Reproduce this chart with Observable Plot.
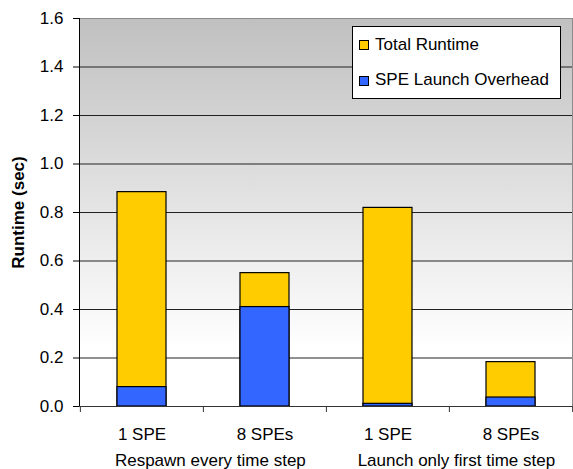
<!DOCTYPE html>
<html>
<head>
<meta charset="utf-8">
<script src="https://cdn.jsdelivr.net/npm/d3@7"></script>
<script src="https://cdn.jsdelivr.net/npm/@observablehq/plot@0.6"></script>
<style>
  html, body { margin: 0; padding: 0; background: #fff; }
  #wrap { position: relative; width: 573px; height: 469px; font-family: "Liberation Sans", Arial, sans-serif; }
  #legend { position: absolute; left: 352px; top: 26px; width: 209px; height: 73px; box-sizing: border-box;
            border: 1px solid #000; background: #fff; font-size: 17px; line-height: 20px; color: #000; }
  .row { position: absolute; left: 0; white-space: nowrap; }
  .sw { position: absolute; width: 10px; height: 10px; box-sizing: border-box; border: 1px solid #000; }
  .lbl { position: absolute; left: 22px; }
</style>
</head>
<body>
<div id="wrap"></div>
<script>
// ---- data ----
const groups = ["Respawn every time step", "Respawn every time step", "Launch only first time step", "Launch only first time step"];
const categories = ["1 SPE", "8 SPEs", "1 SPE", "8 SPEs"];
const totalRuntime = [0.884, 0.55, 0.819, 0.183];
const launchOverhead = [0.08, 0.41, 0.011, 0.037];
const yTicks = [0, 0.2, 0.4, 0.6, 0.8, 1.0, 1.2, 1.4, 1.6];
const seriesNames = ["Total Runtime", "SPE Launch Overhead"];
const seriesColors = ["#FFCC00", "#3366FF"];
const groupNames = ["Respawn every time step", "Launch only first time step"];

const ids = categories.map((c, i) => groups[i] + " / " + c);
const data = ids.map((id, i) => ({id, total: totalRuntime[i], overhead: launchOverhead[i]}));
const groupData = groupNames.map(g => ({g, id: ids.filter((d, i) => groups[i] === g)[1]}));

const W = 573, H = 469, mL = 79, mR = 1, mT = 18, mB = 63;
const band = (W - mL - mR) / ids.length;

const chart = Plot.plot({
  width: W, height: H,
  marginLeft: mL, marginRight: mR, marginTop: mT, marginBottom: mB,
  style: {fontFamily: "'Liberation Sans', Arial, sans-serif", fontSize: "17px", color: "#000", background: "transparent"},
  x: {domain: ids, padding: 0, axis: null},
  y: {domain: [0, 1.6], axis: null},
  marks: [
    Plot.frame({fill: "url(#bgGrad)", stroke: "#8c8c8c"}),
    Plot.ruleY(yTicks.filter(t => t > 0 && t < 1.6), {stroke: "#222", strokeWidth: 1}),
    Plot.rectY(data, {x: "id", y: "total", fill: seriesColors[0], stroke: "#000", strokeWidth: 1.2, insetLeft: 37, insetRight: 37}),
    Plot.rectY(data, {x: "id", y: "overhead", fill: seriesColors[1], stroke: "#000", strokeWidth: 1.2, insetLeft: 37, insetRight: 37}),
    Plot.frame({anchor: "left", stroke: "#000"}),
    Plot.ruleY([0], {stroke: "#333"}),
    Plot.axisY({ticks: yTicks, tickSize: 6, tickPadding: 10, tickFormat: d => d.toFixed(1), label: null, stroke: "#000"}),
    Plot.axisX(ids, {tickSize: 6, text: null, dx: -band / 2, label: null, stroke: "#333"}),
    Plot.axisX([ids[ids.length - 1]], {tickSize: 6, text: null, dx: band / 2, label: null, stroke: "#333"}),
    Plot.axisX({tickSize: 0, tickPadding: 21, tickFormat: d => d.split(" / ")[1], label: null}),
    Plot.text(groupData, {x: "id", text: "g", frameAnchor: "bottom", dx: -band / 2 + 7, dy: 53.6, lineAnchor: "middle", textAnchor: "middle", fontSize: 17}),
    Plot.text(["Runtime (sec)"], {frameAnchor: "left", dx: -61, dy: 0, rotate: -90, fontWeight: "bold", fontSize: 17, textAnchor: "middle", lineAnchor: "middle"})
  ]
});

// gradient background definition
const ns = "http://www.w3.org/2000/svg";
const defs = document.createElementNS(ns, "defs");
defs.innerHTML = '<linearGradient id="bgGrad" x1="0" y1="0" x2="0" y2="1">' +
  '<stop offset="0" stop-color="#c0c0c0"/><stop offset="0.85" stop-color="#ffffff"/><stop offset="1" stop-color="#ffffff"/></linearGradient>';
chart.insertBefore(defs, chart.firstChild);

const wrap = document.getElementById("wrap");
wrap.appendChild(chart);

// legend inside plot area
const legend = document.createElement("div");
legend.id = "legend";
const rowTops = [8, 43];
const swTops = [13, 48.5];
seriesNames.forEach((name, i) => {
  const sw = document.createElement("div");
  sw.className = "sw";
  sw.style.left = "6px";
  sw.style.top = swTops[i] + "px";
  sw.style.background = seriesColors[i];
  legend.appendChild(sw);
  const row = document.createElement("div");
  row.className = "row";
  row.style.top = rowTops[i] + "px";
  const lbl = document.createElement("span");
  lbl.className = "lbl";
  lbl.textContent = name;
  row.appendChild(lbl);
  legend.appendChild(row);
});
wrap.appendChild(legend);
</script>
</body>
</html>
